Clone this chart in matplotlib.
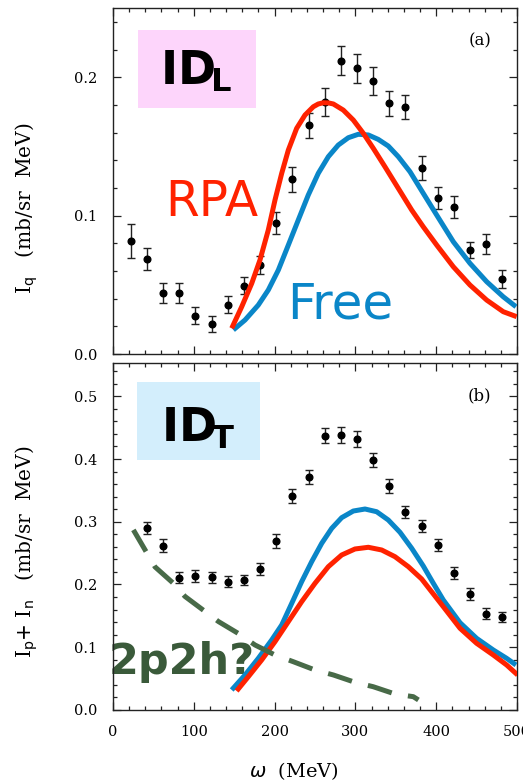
import numpy as np
import matplotlib
matplotlib.use("Agg")
import matplotlib.pyplot as plt
from matplotlib.patches import Rectangle
from matplotlib.ticker import MultipleLocator

# --- longitudinal response, panel (a) ---
w_data_L = [22, 42, 62, 82, 102, 122, 142, 162, 182, 202, 222, 242,
            262, 282, 302, 322, 342, 362, 382, 402, 422, 442, 462, 482]
I_data_L = [0.0817, 0.0687, 0.0439, 0.0444, 0.0277, 0.0217, 0.0357, 0.0494,
            0.0643, 0.0949, 0.1265, 0.1653, 0.1825, 0.2120, 0.2065, 0.1977,
            0.1812, 0.1786, 0.1342, 0.1128, 0.1063, 0.0752, 0.0795, 0.0540]
err_L = [0.0124, 0.0078, 0.0072, 0.0072, 0.0063, 0.0060, 0.0063, 0.0063,
         0.0066, 0.0078, 0.0090, 0.0093, 0.0102, 0.0106, 0.0108, 0.0102,
         0.0093, 0.0090, 0.0087, 0.0080, 0.0078, 0.0060, 0.0071, 0.0066]

w_rpa_L = [146.9, 159.3, 171.7, 181.9, 192.2, 200.5, 208.8, 217.0, 227.3,
           237.6, 247.9, 254.0, 260.3, 266.5, 272.7, 285.0, 297.4, 309.8,
           322.2, 336.6, 353.1, 369.7, 384.0, 400.6, 421.2, 441.8, 462.5,
           483.0, 499.6]
I_rpa_L = [0.0186, 0.0342, 0.0511, 0.0680, 0.0897, 0.1114, 0.1307, 0.1475,
           0.1632, 0.1728, 0.1788, 0.1808, 0.1817, 0.1816, 0.1808, 0.1764,
           0.1692, 0.1596, 0.1487, 0.1354, 0.1198, 0.1041, 0.0920, 0.0788,
           0.0631, 0.0499, 0.0390, 0.0306, 0.0270]

w_free_L = [148.9, 163.4, 179.8, 192.2, 204.6, 217.0, 229.3, 241.7, 254.1,
            266.5, 278.8, 291.2, 303.6, 316.0, 328.3, 340.7, 353.1, 367.6,
            384.0, 400.6, 421.2, 441.8, 462.5, 483.0, 498.8]
I_free_L = [0.0174, 0.0246, 0.0354, 0.0463, 0.0607, 0.0788, 0.0969, 0.1150,
            0.1307, 0.1427, 0.1511, 0.1564, 0.1589, 0.1584, 0.1552, 0.1504,
            0.1427, 0.1318, 0.1162, 0.1005, 0.0812, 0.0656, 0.0523, 0.0414,
            0.0342]

# --- transverse response, panel (b) ---
w_data_T = [42, 62, 82, 102, 122, 142, 162, 182, 202, 222, 242, 262,
            282, 302, 322, 342, 362, 382, 402, 422, 442, 462, 482]
I_data_T = [0.2905, 0.2619, 0.2109, 0.2135, 0.2114, 0.2045, 0.2072, 0.2242,
            0.2699, 0.3416, 0.3708, 0.4372, 0.4377, 0.4318, 0.3984, 0.3570,
            0.3160, 0.2932, 0.2630, 0.2178, 0.1844, 0.1535, 0.1487]
err_T = [0.0098, 0.0101, 0.0093, 0.0093, 0.0093, 0.0085, 0.0085, 0.0093,
         0.0112, 0.0112, 0.0114, 0.0120, 0.0127, 0.0133, 0.0117, 0.0110,
         0.0098, 0.0101, 0.0098, 0.0093, 0.0093, 0.0085, 0.0080]

w_free_T = [146.9, 163.4, 179.8, 196.4, 208.8, 221.2, 233.5, 245.9, 258.3,
            270.7, 283.0, 297.4, 311.9, 326.3, 340.7, 355.2, 369.7, 384.0,
            396.4, 408.8, 429.5, 450.0, 470.7, 487.2, 498.8]
I_free_T = [0.0319, 0.0558, 0.0823, 0.1116, 0.1355, 0.1700, 0.2045, 0.2364,
            0.2656, 0.2895, 0.3065, 0.3171, 0.3203, 0.3160, 0.3028, 0.2832,
            0.2577, 0.2295, 0.2020, 0.1753, 0.1391, 0.1142, 0.0956, 0.0823,
            0.0717]

w_rpa_T = [153.0, 167.5, 184.0, 200.5, 217.0, 233.5, 250.0, 266.5, 283.0,
           299.5, 316.0, 332.5, 349.0, 365.5, 382.0, 408.8, 429.5, 450.0,
           470.7, 487.2, 500.8]
I_rpa_T = [0.0303, 0.0531, 0.0797, 0.1089, 0.1408, 0.1726, 0.2019, 0.2284,
           0.2470, 0.2566, 0.2593, 0.2550, 0.2443, 0.2284, 0.2088, 0.1646,
           0.1302, 0.1063, 0.0876, 0.0717, 0.0558]

w_2p2h = [25.2, 52.0, 74.6, 89.0, 113.9, 130.4, 155.0, 175.7, 200.5, 223.0,
          250.0, 272.7, 299.5, 322.0, 349.0, 371.7, 378.0]
I_2p2h = [0.287, 0.228, 0.202, 0.181, 0.157, 0.141, 0.122, 0.1036, 0.0876,
          0.077, 0.0637, 0.0558, 0.0441, 0.0371, 0.0255, 0.0212, 0.016]

RED = "#ff2200"
BLUE = "#0a86c8"
GREEN = "#486a48"
GREEN_TXT = "#3a5a3a"
SERIF = "DejaVu Serif"
SANS = "DejaVu Sans"

fig = plt.figure(figsize=(5.23, 7.82), dpi=100)
ax1 = fig.add_axes([0.2161, 0.5473, 0.7724, 0.4421])
ax2 = fig.add_axes([0.2161, 0.0921, 0.7724, 0.4437])


def style_axes(ax, ymax):
    ax.set_xlim(0, 500)
    ax.set_ylim(0, ymax)
    ax.xaxis.set_major_locator(MultipleLocator(100))
    ax.xaxis.set_minor_locator(MultipleLocator(20))
    ax.yaxis.set_major_locator(MultipleLocator(0.1))
    ax.yaxis.set_minor_locator(MultipleLocator(0.02))
    ax.yaxis.set_major_formatter(plt.FuncFormatter(lambda v, p: f"{v:.1f}"))
    ax.tick_params(which="both", direction="in", top=True, right=True,
                   width=0.9, color="#222222")
    ax.tick_params(which="major", length=6)
    ax.tick_params(which="minor", length=2.6)
    ax.tick_params(axis="y", pad=11.5, labelsize=10.5)
    ax.tick_params(axis="x", pad=10.5, labelsize=10.5)
    for lab in ax.get_xticklabels() + ax.get_yticklabels():
        lab.set_family(SERIF)
    for sp in ax.spines.values():
        sp.set_linewidth(1.0)
        sp.set_color("#222222")


style_axes(ax1, 0.25)
style_axes(ax2, 0.553)
ax1.tick_params(axis="x", labelbottom=False)

# shaded label boxes
ax1.add_patch(Rectangle((0.062, 0.7125), 0.292, 0.2245, transform=ax1.transAxes,
                        facecolor="#fdd5fb", edgecolor="none", zorder=0))
ax2.add_patch(Rectangle((0.059, 0.7205), 0.305, 0.2255, transform=ax2.transAxes,
                        facecolor="#d3eefc", edgecolor="none", zorder=0))

ebkw = dict(fmt="o", color="black", ms=4.8, ecolor="#222222", elinewidth=1.0,
            capsize=2.8, capthick=1.0, zorder=3)

# panel (a)
ax1.errorbar(w_data_L, I_data_L, yerr=err_L, **ebkw)
ax1.plot(w_free_L, I_free_L, color=BLUE, lw=3.6, solid_capstyle="butt",
         solid_joinstyle="round", zorder=4)
ax1.plot(w_rpa_L, I_rpa_L, color=RED, lw=3.6, solid_capstyle="butt",
         solid_joinstyle="round", zorder=5)
ax1.text(122, 0.110, "RPA", color=RED, family=SANS, fontsize=35,
         ha="center", va="center")
ax1.text(281, 0.0355, "Free", color=BLUE, family=SANS, fontsize=36,
         ha="center", va="center")
ax1.text(0.205, 0.815, r"$\mathbf{ID_{\!L}}$", transform=ax1.transAxes,
         fontsize=33, ha="center", va="center", color="black")
ax1.text(0.908, 0.905, "(a)", transform=ax1.transAxes, family=SERIF,
         fontsize=12, ha="center", va="center")

# panel (b)
ax2.errorbar(w_data_T, I_data_T, yerr=err_T, **ebkw)
ax2.plot(w_free_T, I_free_T, color=BLUE, lw=3.6, solid_capstyle="butt",
         solid_joinstyle="round", zorder=4)
ax2.plot(w_rpa_T, I_rpa_T, color=RED, lw=3.6, solid_capstyle="butt",
         solid_joinstyle="round", zorder=5)
ax2.plot(w_2p2h, I_2p2h, color=GREEN, lw=3.6, ls=(0, (5.0, 3.3)),
         dash_capstyle="butt", zorder=6)
ax2.text(85.4, 0.0757, "2p2h?", color=GREEN_TXT, family=SANS, fontsize=31,
         fontweight="bold", ha="center", va="center", zorder=2)
ax2.text(0.21, 0.81, r"$\mathbf{ID_{\!T}}$", transform=ax2.transAxes,
         fontsize=33, ha="center", va="center", color="black")
ax2.text(0.908, 0.905, "(b)", transform=ax2.transAxes, family=SERIF,
         fontsize=12, ha="center", va="center")

# axis titles
fig.text(27 / 523, 1 - 208 / 782, r"I$_{\rm q}$   (mb/sr  MeV)", family=SERIF,
         fontsize=14.5, rotation=90, ha="center", va="center")
fig.text(27 / 523, 1 - 552 / 782, r"I$_{\rm p}$+ I$_{\rm n}$   (mb/sr  MeV)",
         family=SERIF, fontsize=14.5, rotation=90, ha="center", va="center")
fig.text(294 / 523, 1 - 771 / 782, r"$\omega$  (MeV)", family=SERIF,
         fontsize=14, ha="center", va="center")

fig.savefig("out.png", dpi=100)
